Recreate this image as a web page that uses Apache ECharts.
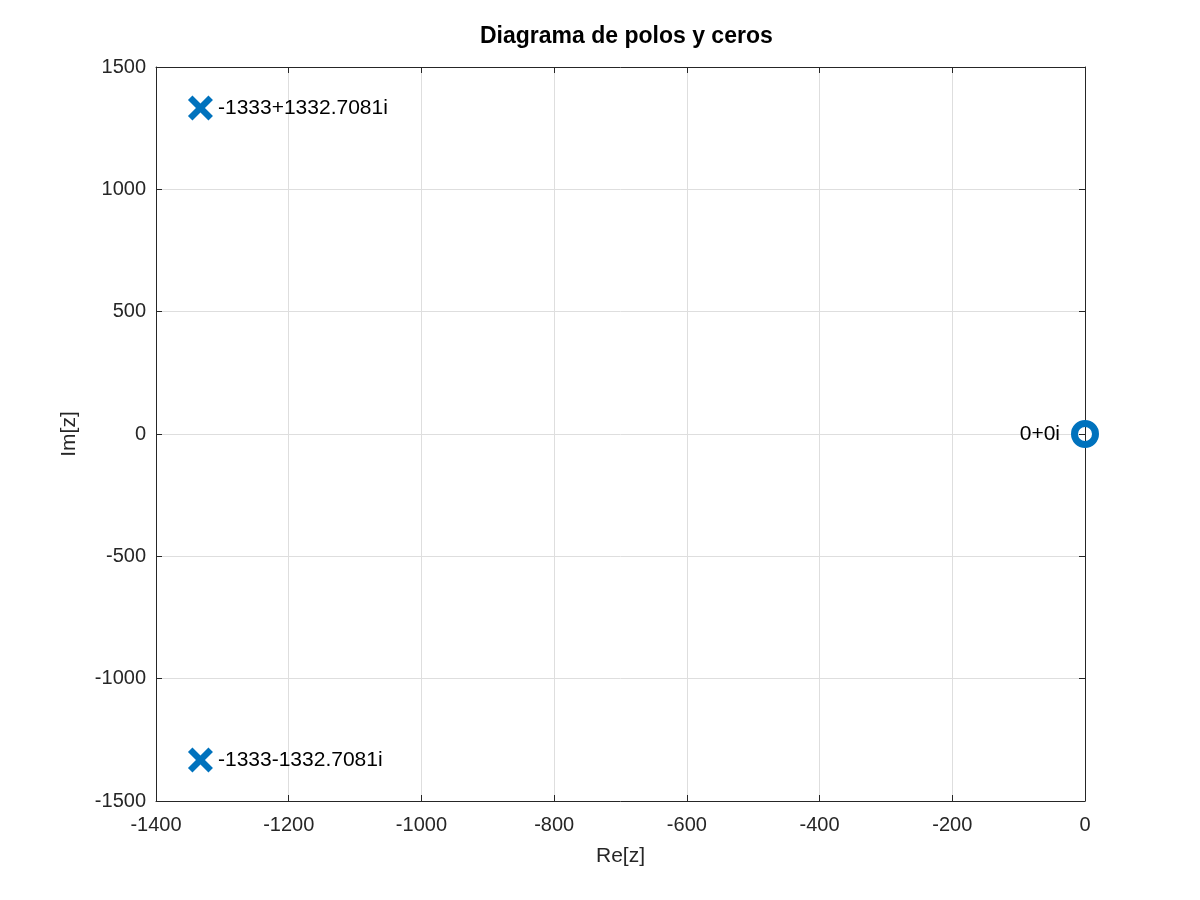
<!DOCTYPE html>
<html>
<head>
<meta charset="utf-8">
<script src="https://cdn.jsdelivr.net/npm/echarts@6/dist/echarts.min.js"></script>
<style>
  html, body { margin: 0; padding: 0; background: #fff; }
  #chart { width: 1200px; height: 900px; }
</style>
</head>
<body>
<div id="chart"></div>
<script>
// polos y ceros
var poleRe = [-1333, -1333];
var poleIm = [1332.7081, -1332.7081];
var poleLabels = ['-1333+1332.7081i', '-1333-1332.7081i'];
var zeroRe = [0];
var zeroIm = [0];
var zeroLabels = ['0+0i'];

var fontFam = '"Liberation Sans", Arial, Helvetica, sans-serif';
var axisCol = '#262626';
var blue = '#0072BD';

// forma de X rellena (los path de echarts se rellenan)
var crossPath = 'path://M0,1.8 L1.8,0 L5,3.2 L8.2,0 L10,1.8 L6.8,5 L10,8.2 L8.2,10 L5,6.8 L1.8,10 L0,8.2 L3.2,5 Z';

var polesData = poleRe.map(function (re, i) { return [re, poleIm[i], poleLabels[i]]; });
var zerosData = zeroRe.map(function (re, i) { return [re, zeroIm[i], zeroLabels[i]]; });

var chart = echarts.init(document.getElementById('chart'));

function boxAxis(pos, min, max, interval, showLabel, margin, extra) {
  var ax = {
    type: 'value', position: pos, min: min, max: max, interval: interval,
    axisLine: { show: true, onZero: false, lineStyle: { color: axisCol, width: 1 } },
    axisTick: { show: true, inside: true, length: 6, lineStyle: { color: axisCol } },
    axisLabel: {
      show: showLabel, color: axisCol, fontSize: 20, fontFamily: fontFam, margin: margin,
      formatter: function (v) { return String(v); }
    },
    splitLine: { show: showLabel, lineStyle: { color: '#dedede', width: 1 } }
  };
  for (var k in extra) ax[k] = extra[k];
  return ax;
}

chart.setOption({
  backgroundColor: '#fff',
  animation: false,
  title: {
    text: 'Diagrama de polos y ceros',
    left: 475, top: 20,
    textStyle: { fontFamily: fontFam, fontSize: 23, fontWeight: 'bold', color: '#000' }
  },
  grid: { left: 156, right: 115, top: 67, bottom: 99 },
  xAxis: [
    boxAxis('bottom', -1400, 0, 200, true, 14, {
      name: 'Re[z]', nameLocation: 'middle', nameGap: 45,
      nameTextStyle: { fontFamily: fontFam, fontSize: 21, color: axisCol }
    }),
    boxAxis('top', -1400, 0, 200, false, 8, {})
  ],
  yAxis: [
    boxAxis('left', -1500, 1500, 500, true, 10, {
      name: 'Im[z]', nameLocation: 'middle', nameGap: 76,
      nameTextStyle: { fontFamily: fontFam, fontSize: 21, color: axisCol }
    }),
    boxAxis('right', -1500, 1500, 500, false, 8, {})
  ],
  series: [
    {
      name: 'polos', type: 'scatter', xAxisIndex: 0, yAxisIndex: 0,
      data: polesData, clip: false,
      symbol: crossPath, symbolSize: 25,
      itemStyle: { color: blue, opacity: 1 },
      label: {
        show: true, position: 'right', distance: 5,
        formatter: function (p) { return p.data[2]; },
        fontFamily: fontFam, fontSize: 21, color: '#000'
      }
    },
    {
      name: 'ceros', type: 'scatter', xAxisIndex: 0, yAxisIndex: 0,
      data: zerosData, clip: false,
      symbol: 'circle', symbolSize: 21,
      itemStyle: { color: 'rgba(0,0,0,0)', borderColor: blue, borderWidth: 7, opacity: 1 },
      label: {
        show: true, position: 'left', distance: 11,
        formatter: function (p) { return p.data[2]; },
        fontFamily: fontFam, fontSize: 21, color: '#000'
      },
      z: 5
    }
  ]
});
</script>
</body>
</html>
